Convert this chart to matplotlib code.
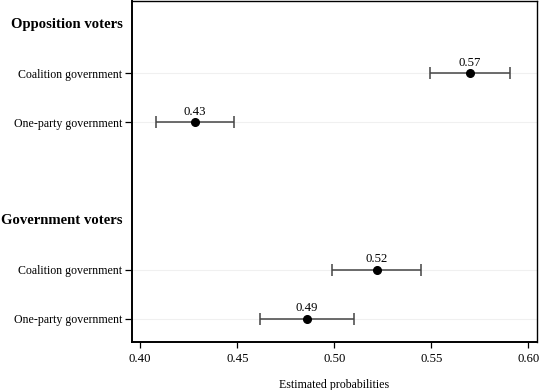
import matplotlib
matplotlib.use("Agg")
import matplotlib.pyplot as plt
import matplotlib.transforms as mtransforms

plt.rcParams["font.family"] = ["Liberation Serif", "DejaVu Serif"]

groups = ["Opposition voters", "Government voters"]
categories = ["Coalition government", "One-party government"]
# estimates and 95% CI, group by group
estimates = [[0.570, 0.428], [0.522, 0.486]]
ci_low = [[0.5495, 0.4079], [0.4988, 0.4615]]
ci_high = [[0.5907, 0.4483], [0.5445, 0.5099]]
labels = [["0.57", "0.43"], ["0.52", "0.49"]]
xticks = [0.40, 0.45, 0.50, 0.55, 0.60]

fig = plt.figure(figsize=(5.4, 3.9), dpi=100)
ax = fig.add_axes([0.2439, 0.1238, 0.75, 0.873])

# row positions (top to bottom): header, cat, cat, gap, header, cat, cat
header_pos = [6, 2]
cat_pos = [[5, 4], [1, 0]]

for g in range(len(groups)):
    for c in range(len(categories)):
        y = cat_pos[g][c]
        ax.axhline(y, color="#f0f0f0", lw=0.8, zorder=0)
        est = estimates[g][c]
        ax.errorbar(est, y,
                    xerr=[[est - ci_low[g][c]], [ci_high[g][c] - est]],
                    fmt="o", color="black", ecolor="#444444", elinewidth=1.1,
                    capsize=4, capthick=1.1, markersize=5.5, zorder=3)
        ax.annotate(labels[g][c], (est, y), xytext=(0, 3),
                    textcoords="offset points", ha="center", va="bottom",
                    fontsize=9.2)

yt = [p for pair in cat_pos for p in pair]
ax.set_yticks(yt)
ax.set_yticklabels([c for g in groups for c in categories], fontsize=8.6)
ax.tick_params(axis="y", length=5, width=0.9, pad=2)

trans = mtransforms.blended_transform_factory(ax.transAxes, ax.transData)
for g, name in enumerate(groups):
    ax.text(-0.022, header_pos[g], name, transform=trans, ha="right",
            va="center", fontsize=10.6, fontweight="bold")

ax.set_xlim(0.3956, 0.6043)
ax.set_ylim(-0.47, 6.47)
ax.set_xticks(xticks)
ax.set_xticklabels([f"{t:.2f}" for t in xticks], fontsize=9.2)
ax.tick_params(axis="x", length=4, width=0.9, pad=4)
ax.set_xlabel("Estimated probabilities", fontsize=8.6, labelpad=10)

for s in ax.spines.values():
    s.set_linewidth(1.0)
ax.spines["left"].set_linewidth(1.4)
ax.spines["bottom"].set_linewidth(1.4)

fig.savefig("out.png", dpi=100)
